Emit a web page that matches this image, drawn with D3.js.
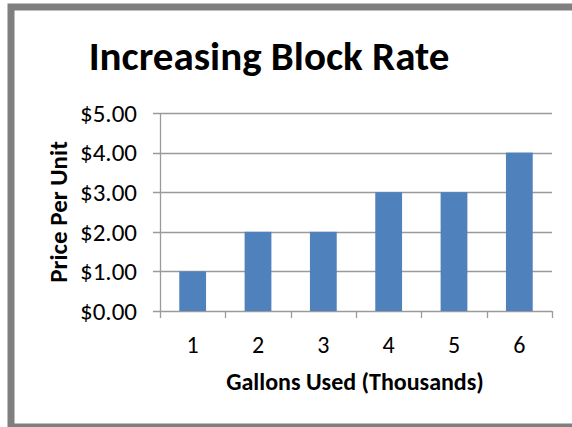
<!DOCTYPE html>
<html>
<head>
<meta charset="utf-8">
<script src="https://cdn.jsdelivr.net/npm/d3@7"></script>
<style>
  body { margin: 0; background: #fff; }
  text { font-family: Carlito, "Open Sans", "Liberation Sans", sans-serif; fill: #000; }
</style>
</head>
<body>
<div id="chart"></div>
<script>
// values
var categories = ["1", "2", "3", "4", "5", "6"];
var prices = [1, 2, 2, 3, 3, 4];
var yTicks = [0, 1, 2, 3, 4, 5];

var width = 572, height = 427;
var margin = {top: 113, right: 20, bottom: 116, left: 160};

var svg = d3.select('#chart')
  .append('svg')
  .attr('width', width)
  .attr('height', height);

// frame of the chart
svg.append('rect')
  .attr('x', 11).attr('y', 7)
  .attr('width', 620).attr('height', 420)
  .attr('fill', 'none')
  .attr('stroke', '#7f7f7f')
  .attr('stroke-width', 7);

var x = d3.scaleBand()
  .domain(categories)
  .range([margin.left, width - margin.right])
  .paddingInner(0.59)
  .paddingOuter(0.295);

var xb = d3.scaleBand()
  .domain(categories)
  .range([margin.left, width - margin.right]);

var y = d3.scaleLinear()
  .domain([0, 5])
  .range([height - margin.bottom, margin.top]);

// gridlines
svg.append('g')
  .selectAll('line')
  .data(yTicks)
  .enter().append('line')
  .attr('x1', margin.left - 7)
  .attr('x2', width - margin.right)
  .attr('y1', function(d) { return Math.round(y(d)) + 0.5; })
  .attr('y2', function(d) { return Math.round(y(d)) + 0.5; })
  .attr('stroke', '#9a9a9a')
  .attr('stroke-width', 1.3);

// y axis line
svg.append('line')
  .attr('x1', margin.left + 0.5).attr('x2', margin.left + 0.5)
  .attr('y1', margin.top).attr('y2', height - margin.bottom)
  .attr('stroke', '#9a9a9a')
  .attr('stroke-width', 1.3);

// x tick marks at band edges
var edges = categories.map(function(c) { return xb(c); }).concat([width - margin.right]);
svg.append('g')
  .selectAll('line')
  .data(edges)
  .enter().append('line')
  .attr('x1', function(d) { return Math.round(d) + 0.5; })
  .attr('x2', function(d) { return Math.round(d) + 0.5; })
  .attr('y1', y(0))
  .attr('y2', y(0) + 7)
  .attr('stroke', '#9a9a9a')
  .attr('stroke-width', 1.3);

// bars
svg.append('g')
  .selectAll('rect')
  .data(prices)
  .enter().append('rect')
  .attr('x', function(d, i) { return x(categories[i]); })
  .attr('y', function(d) { return y(d); })
  .attr('width', x.bandwidth())
  .attr('height', function(d) { return y(0) - y(d); })
  .attr('fill', '#4f81bd');

// y tick labels
svg.append('g')
  .selectAll('text')
  .data(yTicks)
  .enter().append('text')
  .attr('x', 137)
  .attr('y', function(d) { return y(d); })
  .attr('dy', '0.35em')
  .attr('text-anchor', 'end')
  .attr('style', 'font-size:25px')
  .text(function(d) { return '$' + d.toFixed(2); });

// x tick labels
svg.append('g')
  .selectAll('text')
  .data(categories)
  .enter().append('text')
  .attr('x', function(d) { return xb(d) + xb.bandwidth() / 2; })
  .attr('y', 353)
  .attr('text-anchor', 'middle')
  .attr('style', 'font-size:24px')
  .text(function(d) { return d; });

// titles
svg.append('text')
  .attr('x', 269).attr('y', 70)
  .attr('text-anchor', 'middle')
  .attr('style', 'font-size:41px;font-weight:bold')
  .text('Increasing Block Rate');

svg.append('text')
  .attr('x', 355).attr('y', 390)
  .attr('text-anchor', 'middle')
  .attr('style', 'font-size:24px;font-weight:bold')
  .text('Gallons Used (Thousands)');

svg.append('text')
  .attr('transform', 'translate(67,212) rotate(-90)')
  .attr('text-anchor', 'middle')
  .attr('style', 'font-size:25px;font-weight:bold')
  .text('Price Per Unit');
</script>
</body>
</html>
